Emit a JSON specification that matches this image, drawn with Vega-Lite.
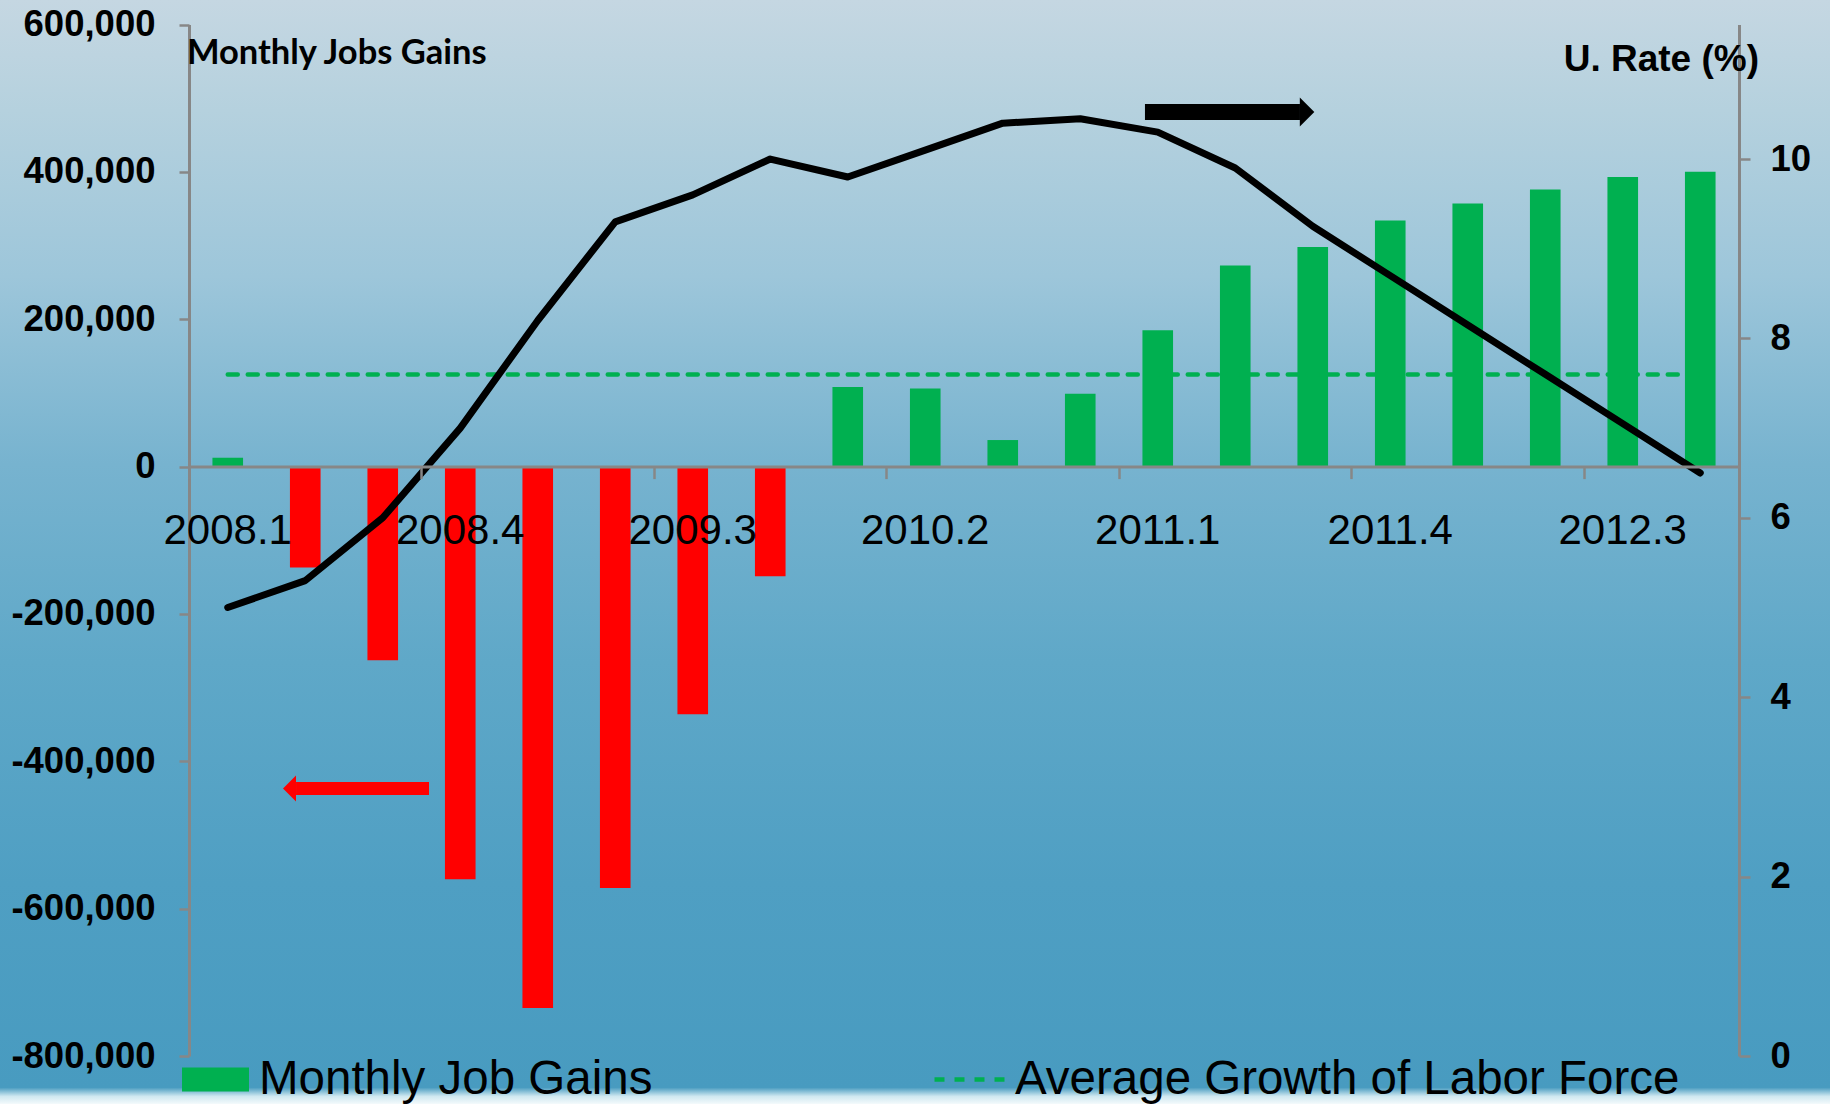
{
  "$schema": "https://vega.github.io/schema/vega-lite/v6.json",
  "width": 1830,
  "height": 1104,
  "autosize": {"type": "none"},
  "padding": 0,
  "background": "#6aaecb",
  "config": {
    "view": {
      "stroke": null,
      "fill": {
        "gradient": "linear", "x1": 0, "y1": 0, "x2": 0, "y2": 1,
        "stops": [
          {"offset": 0, "color": "#c5d7e2"},
          {"offset": 0.1, "color": "#b5d1de"},
          {"offset": 0.25, "color": "#9dc6da"},
          {"offset": 0.42, "color": "#77b3cf"},
          {"offset": 0.6, "color": "#5fa8c8"},
          {"offset": 0.8, "color": "#4f9fc3"},
          {"offset": 0.985, "color": "#489bc0"},
          {"offset": 0.993, "color": "#cfe8f0"},
          {"offset": 1, "color": "#f4fafc"}
        ]
      }
    },
    "axis": {"grid": false, "domainColor": "#878787", "tickColor": "#878787", "labelColor": "#000000", "titleColor": "#000000"}
  },
  "datasets": {
    "quarters": [
      {"quarter": "2008.1", "jobs": 12000, "rate": 5.0, "labor": 125000},
      {"quarter": "2008.2", "jobs": -137000, "rate": 5.3, "labor": 125000},
      {"quarter": "2008.3", "jobs": -263000, "rate": 6.0, "labor": 125000},
      {"quarter": "2008.4", "jobs": -560000, "rate": 7.0, "labor": 125000},
      {"quarter": "2009.1", "jobs": -735000, "rate": 8.2, "labor": 125000},
      {"quarter": "2009.2", "jobs": -572000, "rate": 9.3, "labor": 125000},
      {"quarter": "2009.3", "jobs": -336000, "rate": 9.6, "labor": 125000},
      {"quarter": "2009.4", "jobs": -149000, "rate": 10.0, "labor": 125000},
      {"quarter": "2010.1", "jobs": 108000, "rate": 9.8, "labor": 125000},
      {"quarter": "2010.2", "jobs": 106000, "rate": 10.1, "labor": 125000},
      {"quarter": "2010.3", "jobs": 36000, "rate": 10.4, "labor": 125000},
      {"quarter": "2010.4", "jobs": 99000, "rate": 10.45, "labor": 125000},
      {"quarter": "2011.1", "jobs": 185000, "rate": 10.3, "labor": 125000},
      {"quarter": "2011.2", "jobs": 273000, "rate": 9.9, "labor": 125000},
      {"quarter": "2011.3", "jobs": 298000, "rate": 9.25, "labor": 125000},
      {"quarter": "2011.4", "jobs": 334000, "rate": 8.7, "labor": 125000},
      {"quarter": "2012.1", "jobs": 357000, "rate": 8.15, "labor": 125000},
      {"quarter": "2012.2", "jobs": 376000, "rate": 7.6, "labor": 125000},
      {"quarter": "2012.3", "jobs": 393000, "rate": 7.05, "labor": 125000},
      {"quarter": "2012.4", "jobs": 400000, "rate": 6.5, "labor": 125000}
    ],
    "rateArrow": [{"tail": 12.335, "base": 14.335, "tip": 14.52, "rate": 10.525}],
    "jobsArrow": [{"tail": 3.097, "base": 1.381, "tip": 1.213, "jobs": -437000}]
  },
  "resolve": {"scale": {"x": "independent", "y": "independent"}},
  "layer": [
    {
      "data": {"name": "quarters"},
      "mark": {"type": "bar", "width": {"band": 0.395}},
      "encoding": {
        "x": {
          "field": "quarter", "type": "ordinal", "sort": null,
          "scale": {"type": "band", "range": [189, 1739], "paddingInner": 0, "paddingOuter": 0},
          "axis": {
            "orient": "bottom", "offset": -637.4, "title": null, "zindex": 1,
            "values": ["2008.1", "2008.4", "2009.3", "2010.2", "2011.1", "2011.4", "2012.3"],
            "bandPosition": 0, "labelAngle": 0, "labelFont": "Liberation Sans", "labelFontSize": 42,
            "labelFontWeight": "normal", "labelPadding": 31.6, "tickSize": 12, "tickWidth": 2.5,
            "domainWidth": 3, "labelOverlap": false, "labelBound": false, "labelFlush": false
          }
        },
        "y": {
          "field": "jobs", "type": "quantitative",
          "scale": {"domain": [-800000, 600000], "range": [1056, 24.5], "nice": false, "zero": false},
          "axis": {
            "orient": "left", "offset": -189,
            "values": [-800000, -600000, -400000, -200000, 0, 200000, 400000, 600000],
            "labelExpr": "replace(format(datum.value, ','), '\u2212', '-')",
            "labelFont": "Liberation Sans", "labelFontWeight": "bold", "labelFontSize": 36.5,
            "labelPadding": 24, "tickSize": 10, "tickWidth": 2.5, "domainWidth": 3,
            "title": "Monthly Jobs Gains", "titleAngle": 0, "titleAlign": "left", "titleBaseline": "alphabetic",
            "titleX": -2.6, "titleY": 63.3, "titleFont": "Lato", "titleFontWeight": "bold", "titleFontSize": 34.5
          }
        },
        "fill": {
          "datum": "Monthly Job Gains", "type": "nominal",
          "scale": {"domain": ["Monthly Job Gains"], "range": ["#00b050"]},
          "condition": {"test": "datum.jobs < 0", "value": "#ff0000"},
          "legend": {
            "orient": "none", "legendX": 182, "legendY": 1046, "title": null, "padding": 0,
            "symbolType": "M-1,-0.358L1,-0.358L1,0.358L-1,0.358Z", "symbolSize": 4489,
            "symbolStrokeWidth": 0, "symbolOpacity": 1,
            "labelFont": "Liberation Sans", "labelFontSize": 47.5, "labelColor": "#000000",
            "labelOffset": 10, "labelLimit": 800
          }
        }
      }
    },
    {
      "data": {"name": "quarters"},
      "mark": {"type": "line", "color": "#00b050", "strokeWidth": 4.5, "strokeCap": "round"},
      "encoding": {
        "x": {
          "field": "quarter", "type": "ordinal", "sort": null,
          "scale": {"type": "band", "range": [189, 1739], "paddingInner": 0, "paddingOuter": 0},
          "axis": null
        },
        "y": {
          "field": "labor", "type": "quantitative",
          "scale": {"domain": [-800000, 600000], "range": [1056, 24.5], "nice": false, "zero": false},
          "axis": null
        },
        "strokeDash": {
          "datum": "Average Growth of Labor Force", "type": "nominal",
          "scale": {"domain": ["Average Growth of Labor Force"], "range": [[10, 10]]},
          "legend": {
            "orient": "none", "legendX": 932, "legendY": 1042, "title": null, "padding": 0,
            "symbolType": "stroke", "symbolSize": 4900, "symbolStrokeWidth": 4.5,
            "symbolStrokeColor": "#00b050",
            "labelFont": "Liberation Sans", "labelFontSize": 47.5, "labelColor": "#000000",
            "labelOffset": 8, "labelLimit": 900
          }
        }
      }
    },
    {
      "data": {"name": "quarters"},
      "mark": {"type": "line", "color": "#000000", "strokeWidth": 7, "strokeJoin": "round", "strokeCap": "round"},
      "encoding": {
        "x": {
          "field": "quarter", "type": "ordinal", "sort": null,
          "scale": {"type": "band", "range": [189, 1739], "paddingInner": 0, "paddingOuter": 0},
          "axis": null
        },
        "y": {
          "field": "rate", "type": "quantitative",
          "scale": {"domain": [0, 11.5], "range": [1056, 24.5], "nice": false, "zero": false},
          "axis": {
            "orient": "right", "offset": -91, "values": [0, 2, 4, 6, 8, 10], "format": "d",
            "labelFont": "Liberation Sans", "labelFontWeight": "bold", "labelFontSize": 36.5,
            "labelPadding": 20, "tickSize": 11, "tickWidth": 2.5, "domainWidth": 3, "labelAlign": "left",
            "title": "U. Rate (%)", "titleAngle": 0, "titleAlign": "right", "titleBaseline": "alphabetic",
            "titleX": 19.5, "titleY": 70.7, "titleFont": "Liberation Sans", "titleFontWeight": "bold", "titleFontSize": 37
          }
        }
      }
    },
    {
      "data": {"name": "rateArrow"},
      "mark": {"type": "rule", "color": "#000000", "strokeWidth": 16},
      "encoding": {
        "x": {"field": "tail", "type": "quantitative", "scale": {"domain": [0, 20], "range": [189, 1739], "nice": false, "zero": false}, "axis": null},
        "x2": {"field": "base"},
        "y": {"field": "rate", "type": "quantitative", "scale": {"domain": [0, 11.5], "range": [1056, 24.5], "nice": false, "zero": false}, "axis": null}
      }
    },
    {
      "data": {"name": "rateArrow"},
      "mark": {"type": "point", "shape": "M-1,-1L0,0L-1,1Z", "size": 841, "filled": true, "color": "#000000", "opacity": 1, "strokeWidth": 0},
      "encoding": {
        "x": {"field": "tip", "type": "quantitative", "scale": {"domain": [0, 20], "range": [189, 1739], "nice": false, "zero": false}, "axis": null},
        "y": {"field": "rate", "type": "quantitative", "scale": {"domain": [0, 11.5], "range": [1056, 24.5], "nice": false, "zero": false}, "axis": null}
      }
    },
    {
      "data": {"name": "jobsArrow"},
      "mark": {"type": "rule", "color": "#ff0000", "strokeWidth": 13},
      "encoding": {
        "x": {"field": "base", "type": "quantitative", "scale": {"domain": [0, 20], "range": [189, 1739], "nice": false, "zero": false}, "axis": null},
        "x2": {"field": "tail"},
        "y": {"field": "jobs", "type": "quantitative", "scale": {"domain": [-800000, 600000], "range": [1056, 24.5], "nice": false, "zero": false}, "axis": null}
      }
    },
    {
      "data": {"name": "jobsArrow"},
      "mark": {"type": "point", "shape": "M1,-1L0,0L1,1Z", "size": 676, "filled": true, "color": "#ff0000", "opacity": 1, "strokeWidth": 0},
      "encoding": {
        "x": {"field": "tip", "type": "quantitative", "scale": {"domain": [0, 20], "range": [189, 1739], "nice": false, "zero": false}, "axis": null},
        "y": {"field": "jobs", "type": "quantitative", "scale": {"domain": [-800000, 600000], "range": [1056, 24.5], "nice": false, "zero": false}, "axis": null}
      }
    }
  ]
}
